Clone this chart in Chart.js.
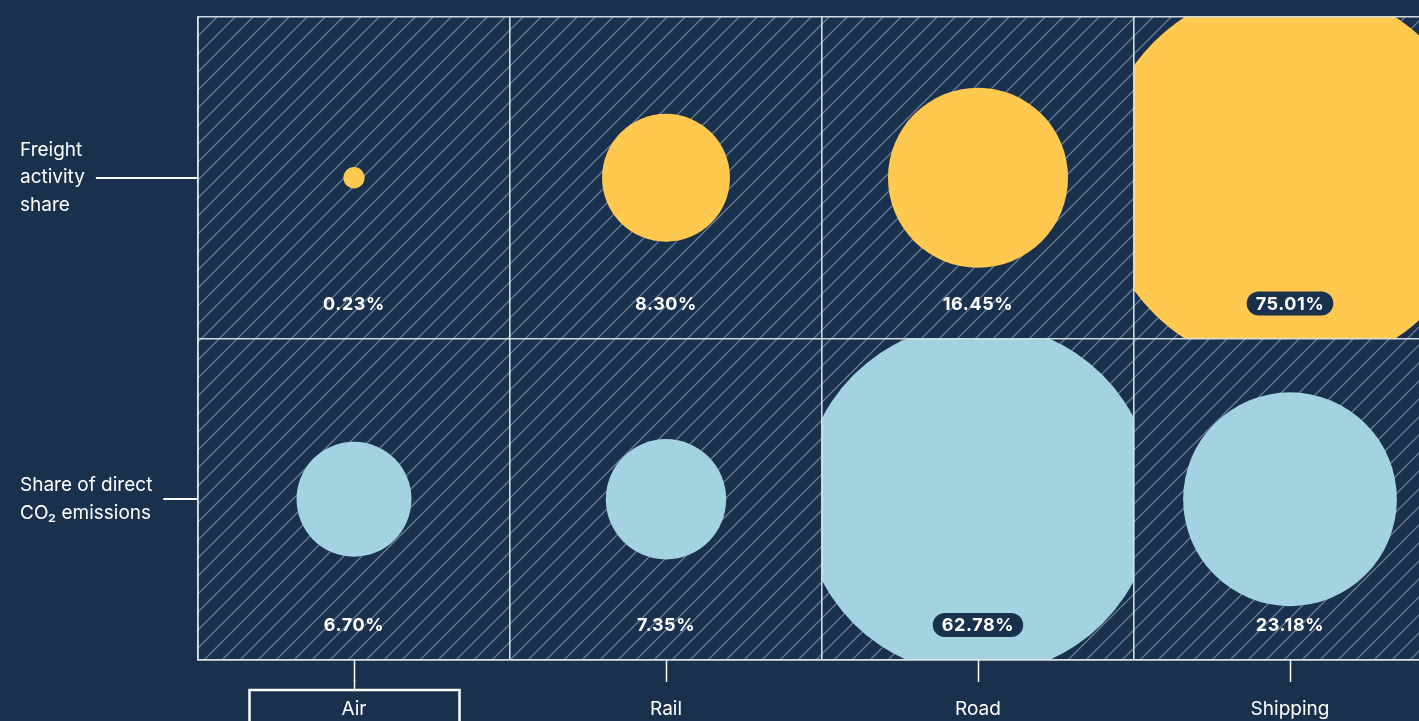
<!DOCTYPE html>
<html>
<head>
<meta charset="utf-8">
<style>
  html, body { margin: 0; padding: 0; background: #1a314e; overflow: hidden; }
  #wrap { position: relative; width: 1460px; height: 721px; }
</style>
<script src="https://cdn.jsdelivr.net/npm/chart.js@4.4.1/dist/chart.umd.min.js"></script>
</head>
<body>
<div id="wrap"><canvas id="chart"></canvas></div>
<script>
const modes = ['Air', 'Rail', 'Road', 'Shipping'];
const rows = ['Freight activity share', 'Share of direct CO₂ emissions'];
const rowLabelLines = [['Freight', 'activity', 'share'], ['Share of direct', 'CO₂ emissions']];
const freightShare = [0.23, 8.30, 16.45, 75.01];
const emissionsShare = [6.70, 7.35, 62.78, 23.18];
const highlightedMode = 'Air';

const NAVY = '#1a314e';
const LINE = 'rgba(226,231,237,0.92)';
const FONT = 'Inter, "Open Sans", sans-serif';
const RADIUS_PER_SQRT = 22.2; // bubble area proportional to the share

function toPoints(values, row) {
    return values.map((v, i) => ({ x: modes[i], y: row, r: RADIUS_PER_SQRT * Math.sqrt(v), v: v }));
}

function hatchPattern(ctx) {
    const s = 18;
    const tile = document.createElement('canvas');
    tile.width = tile.height = s;
    const g = tile.getContext('2d');
    g.strokeStyle = 'rgba(170,188,208,0.55)';
    g.lineWidth = 1.3;
    g.beginPath();
    g.moveTo(0, s); g.lineTo(s, 0);
    g.moveTo(-2, 2); g.lineTo(2, -2);
    g.moveTo(s - 2, s + 2); g.lineTo(s + 2, s - 2);
    g.stroke();
    return ctx.createPattern(tile, 'repeat');
}

function cellHalfSize(chart) {
    const x = chart.scales.x, y = chart.scales.y;
    return {
        w: Math.abs(x.getPixelForValue(1) - x.getPixelForValue(0)) / 2,
        h: Math.abs(y.getPixelForValue(1) - y.getPixelForValue(0)) / 2
    };
}

const cellsPlugin = {
    id: 'cells',
    beforeDatasetsDraw(chart) {
        const { ctx, chartArea: a } = chart;
        ctx.save();
        ctx.fillStyle = hatchPattern(ctx);
        ctx.fillRect(a.left, a.top, a.right - a.left, a.bottom - a.top);
        ctx.restore();
    },
    // each bubble is clipped to its own cell
    beforeDatasetDraw(chart, args) {
        const ctx = chart.ctx;
        const half = cellHalfSize(chart);
        args.meta.data.forEach(el => {
            ctx.save();
            ctx.beginPath();
            ctx.rect(el.x - half.w, el.y - half.h, half.w * 2, half.h * 2);
            ctx.clip();
            el.draw(ctx, chart.chartArea);
            ctx.restore();
        });
        return false;
    },
    afterDraw(chart) {
        const ctx = chart.ctx;
        const half = cellHalfSize(chart);
        ctx.save();
        ctx.font = 'bold 18px ' + FONT;
        ctx.letterSpacing = '0.6px';
        ctx.textAlign = 'center';
        ctx.textBaseline = 'middle';
        chart.data.datasets.forEach((ds, di) => {
            chart.getDatasetMeta(di).data.forEach((el, i) => {
                const text = ds.data[i].v.toFixed(2) + '%';
                const ly = el.y + half.h - 35;
                const r = ds.data[i].r;
                if (r > ly - el.y - 12) {
                    const w = ctx.measureText(text).width + 18;
                    ctx.fillStyle = NAVY;
                    ctx.beginPath();
                    ctx.roundRect(el.x - w / 2, ly - 12, w, 24, 12);
                    ctx.fill();
                }
                ctx.fillStyle = '#ffffff';
                ctx.fillText(text, el.x, ly + 1);
            });
        });
        ctx.restore();

        // row connector lines
        const y = chart.scales.y;
        ctx.save();
        ctx.font = '19px ' + FONT;
        ctx.strokeStyle = '#ffffff';
        ctx.lineWidth = 2;
        rowLabelLines.forEach((lines, i) => {
            const w = Math.max(...lines.map(t => ctx.measureText(t).width));
            const py = Math.round(y.getPixelForValue(i));
            ctx.beginPath();
            ctx.moveTo(y.left + w + 11, py);
            ctx.lineTo(chart.chartArea.left, py);
            ctx.stroke();
        });
        ctx.restore();

        // highlight box around the selected mode label
        const x2 = chart.scales.x2;
        const cx = Math.round(x2.getPixelForValue(modes.indexOf(highlightedMode))) + 0.5;
        const top = chart.chartArea.bottom + 30;
        ctx.save();
        ctx.strokeStyle = '#ffffff';
        ctx.lineWidth = 1.5;
        ctx.beginPath();
        ctx.moveTo(cx, chart.chartArea.bottom + 20);
        ctx.lineTo(cx, top);
        ctx.stroke();
        ctx.lineWidth = 2.5;
        ctx.strokeRect(cx - 105, top, 210, 60);
        ctx.restore();
    }
};

new Chart(document.getElementById('chart').getContext('2d'), {
    type: 'bubble',
    data: {
        datasets: [
            { label: rows[0], data: toPoints(freightShare, rows[0]), backgroundColor: '#ffc84f', borderWidth: 0 },
            { label: rows[1], data: toPoints(emissionsShare, rows[1]), backgroundColor: '#a3d2e0', borderWidth: 0 }
        ]
    },
    options: {
        responsive: true,
        maintainAspectRatio: false,
        animation: false,
        events: [],
        layout: { autoPadding: false, padding: { left: 20, top: 17, right: 14, bottom: 0 } },
        plugins: { legend: { display: false }, tooltip: { enabled: false } },
        scales: {
            x: {
                type: 'category',
                labels: modes,
                offset: true,
                position: 'bottom',
                grid: { offset: true, color: LINE, lineWidth: 1.6, drawTicks: false, z: 1 },
                border: { display: true, color: LINE, width: 1.6, z: 1 },
                ticks: { display: false },
                afterFit: s => { s.height = 0; }
            },
            x2: {
                type: 'category',
                labels: modes,
                offset: true,
                position: 'bottom',
                grid: { offset: false, drawOnChartArea: false, tickLength: 22, tickColor: '#ffffff', tickWidth: 1.5, color: '#ffffff' },
                border: { display: false },
                ticks: { color: '#ffffff', font: { family: FONT, size: 19 }, padding: 16, maxRotation: 0 },
                afterFit: s => { s.height = 61; }
            },
            y: {
                type: 'category',
                labels: rows,
                offset: true,
                grid: { offset: true, color: LINE, lineWidth: 1.6, drawTicks: false, z: 1 },
                border: { display: true, color: LINE, width: 1.6, z: 1 },
                ticks: {
                    color: '#ffffff', crossAlign: 'far', padding: 0,
                    font: { family: FONT, size: 19, lineHeight: 1.43 },
                    callback: (v, i) => rowLabelLines[i]
                },
                afterFit: s => { s.width = 178; s.paddingTop = 0; s.paddingBottom = 0; }
            }
        }
    },
    plugins: [cellsPlugin]
});
</script>
</body>
</html>
